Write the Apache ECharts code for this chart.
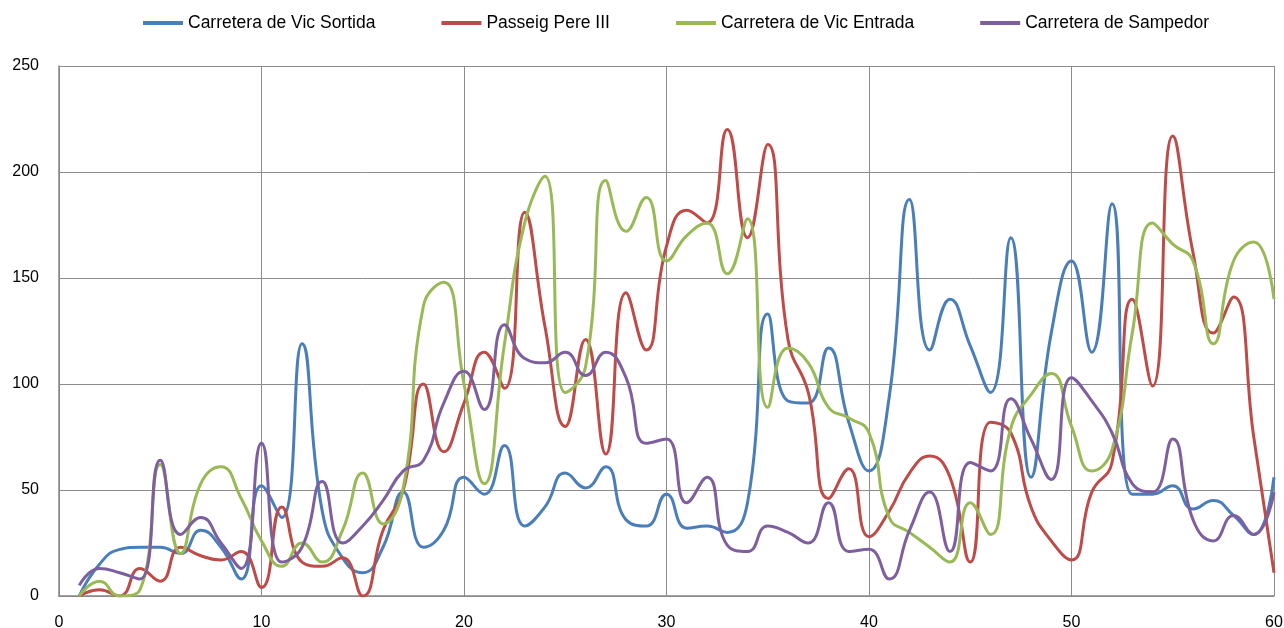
<!DOCTYPE html>
<html>
<head>
<meta charset="utf-8">
<script src="https://cdn.jsdelivr.net/npm/echarts@6/dist/echarts.min.js"></script>
<style>
  html, body { margin: 0; padding: 0; background: #fff; }
  #main { width: 1284px; height: 628px; }
</style>
</head>
<body>
<div id="main"></div>
<script>
// x positions 1..60
var xs = [];
for (var i = 1; i <= 60; i++) xs.push(i);

var seriesNames = ['Carretera de Vic Sortida', 'Passeig Pere III', 'Carretera de Vic Entrada', 'Carretera de Sampedor'];
var seriesColors = ['#4A7EBB', '#BE4B48', '#98B954', '#7D5FA0'];

var vicSortida = [0, 15, 22, 23, 23, 20, 31, 23, 8, 52,
  37, 119, 40, 18, 11, 23, 49, 23, 31, 56,
  48, 71, 33, 42, 58, 51, 61, 36, 33, 48,
  32, 33, 30, 44, 133, 92, 91, 117, 82, 59,
  94, 187, 116, 140, 118, 96, 169, 56, 124, 158,
  115, 185, 48, 48, 52, 41, 45, 38, 29, 56];

var pereIII = [0, 3, 0, 13, 7, 23, 19, 17, 21, 4,
  42, 16, 14, 18, 0, 31, 50, 100, 68, 91,
  115, 98, 181, 127, 80, 121, 67, 143, 116, 165,
  182, 176, 220, 169, 213, 121, 96, 46, 60, 28,
  40, 58, 66, 56, 16, 82, 77, 42, 26, 17,
  49, 63, 140, 99, 217, 162, 124, 141, 75, 11];

var vicEntrada = [0, 7, 0, 3, 62, 20, 53, 61, 46, 26,
  14, 25, 16, 31, 58, 34, 51, 137, 148, 100,
  53, 119, 176, 198, 96, 108, 196, 172, 188, 158,
  170, 176, 152, 178, 89, 117, 110, 89, 84, 77,
  37, 30, 23, 16, 44, 29, 79, 95, 105, 80,
  59, 69, 124, 176, 166, 158, 119, 158, 167, 140];

var sampedor = [5, 13, 11, 8, 64, 29, 37, 25, 13, 72,
  16, 23, 54, 25, 33, 45, 59, 64, 91, 106,
  88, 128, 112, 110, 115, 104, 115, 103, 72, 74,
  44, 56, 24, 21, 33, 30, 25, 44, 21, 22,
  8, 31, 49, 21, 63, 59, 93, 74, 55, 103,
  92, 77, 53, 49, 74, 36, 26, 38, 29, 49];

var yTicks = [0, 50, 100, 150, 200, 250];
var xTicks = [0, 10, 20, 30, 40, 50, 60];

var allData = [vicSortida, pereIII, vicEntrada, sampedor];

var chart = echarts.init(document.getElementById('main'));

var font = "'Liberation Sans', sans-serif";

var option = {
  animation: false,
  backgroundColor: '#fff',
  textStyle: { fontFamily: font },
  legend: {
    top: 9,
    left: 138,
    itemWidth: 40,
    itemHeight: 4,
    itemGap: 66,
    icon: 'rect',
    textStyle: { fontSize: 17.5, color: '#000', fontFamily: font },
    data: seriesNames
  },
  grid: {
    left: 59,
    right: 10,
    top: 66,
    bottom: 32,
    outerBoundsMode: 'none',
    containLabel: false
  },
  xAxis: {
    type: 'value',
    min: 0,
    max: 60,
    interval: 10,
    axisLine: { show: true, lineStyle: { color: '#868686', width: 1.5 } },
    axisTick: { show: false },
    axisLabel: {
      color: '#000',
      fontSize: 16,
      fontFamily: font,
      margin: 19,
      formatter: function (v) { return xTicks.indexOf(v) >= 0 ? String(v) : ''; }
    },
    splitLine: { show: true, lineStyle: { color: '#8C8C8C', width: 1 } }
  },
  yAxis: {
    type: 'value',
    min: 0,
    max: 250,
    interval: 50,
    axisLine: { show: true, lineStyle: { color: '#868686', width: 1.5 } },
    axisTick: { show: false },
    axisLabel: {
      color: '#000',
      fontSize: 16,
      fontFamily: font,
      margin: 20,
      formatter: function (v) { return yTicks.indexOf(v) >= 0 ? String(v) : ''; }
    },
    splitLine: { show: true, lineStyle: { color: '#8C8C8C', width: 1 } }
  },
  series: seriesNames.map(function (name, k) {
    return {
      name: name,
      type: 'line',
      smooth: 0.5,
      symbol: 'none',
      color: seriesColors[k],
      lineStyle: { width: 3, color: seriesColors[k] },
      data: xs.map(function (x, j) { return [x, allData[k][j]]; })
    };
  })
};

chart.setOption(option);
</script>
</body>
</html>
